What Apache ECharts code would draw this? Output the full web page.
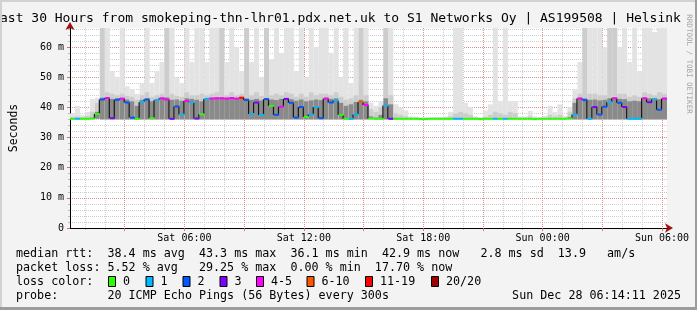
<!DOCTYPE html>
<html><head><meta charset="utf-8">
<script src="https://cdn.jsdelivr.net/npm/echarts@6/dist/echarts.min.js"></script>
<style>html,body{margin:0;padding:0;background:#f3f3f3}#c{width:697px;height:310px}</style>
</head><body><div id="c"></div>
<script>
// ---------- text ----------
const titleText = 'ast 30 Hours from smokeping-thn-lhr01.pdx.net.uk to S1 Networks Oy | AS199508 | Helsink';
const yAxisName = 'Seconds';
const watermark = 'RRDTOOL / TOBI OETIKER';
const timeTickLabels = ['Sat 06:00', 'Sat 12:00', 'Sat 18:00', 'Sun 00:00', 'Sun 06:00'];
const statLines = [
  'median rtt:  38.4 ms avg  43.3 ms max  36.1 ms min  42.9 ms now   2.8 ms sd  13.9   am/s',
  'packet loss: 5.52 % avg   29.25 % max  0.00 % min  17.70 % now',
  'loss color:',
  'probe:       20 ICMP Echo Pings (56 Bytes) every 300s'
];
const dateText = 'Sun Dec 28 06:14:11 2025';
const lossClasses = ['0', '1', '2', '3', '4-5', '6-10', '11-19', '20/20'];
const lossColors = ['#26ff00', '#00b8ff', '#0059ff', '#7e00ff', '#ff00ff', '#ff5500', '#ff0000', '#a10000'];

// ---------- data: one value per 15-minute step, Sat 00:15 .. Sun 06:15 ----------
const median = [
  36.2,36.2,36.2,36.2,36.3,37.8,42.6,43.1,36.4,42.5,
  42.9,41.6,36.6,36.2,41.8,42.6,36.4,42.4,43.0,42.6,
  36.2,40.3,37.6,42.1,41.7,36.3,37.7,42.8,42.9,43.0,
  43.0,42.9,43.1,42.9,43.2,42.4,37.8,41.6,37.5,42.7,
  40.5,37.5,40.2,42.8,41.5,36.6,40.1,36.8,37.6,40.1,
  36.4,42.9,41.6,42.3,37.5,36.2,36.2,37.6,41.8,40.8,
  36.3,36.2,36.2,40.6,36.2,36.2,36.2,36.2,36.2,36.2,
  36.1,36.1,36.2,36.2,36.2,36.2,36.2,36.2,36.2,36.2,
  36.2,36.2,36.1,36.2,36.2,36.2,36.2,36.2,36.2,36.2,
  36.2,36.2,36.2,36.1,36.2,36.2,36.2,36.2,36.2,36.2,
  36.3,37.6,42.9,42.4,36.2,40.1,37.6,40.2,41.7,43.0,
  41.5,40.1,36.2,36.2,36.2,43.0,41.7,42.6,39.2,42.9
];
const loss = [
  0,1,0,0,0,0,2,4,3,2,
  4,2,2,0,1,2,0,1,4,4,
  3,2,1,4,1,3,0,1,4,4,
  4,4,4,4,12,2,1,3,1,2,
  0,2,4,3,2,2,2,0,1,1,
  2,4,2,1,0,0,1,1,7,4,
  0,0,0,1,3,0,0,0,0,0,
  0,0,0,0,0,0,0,1,1,0,
  0,0,0,0,0,1,0,1,0,0,
  0,0,0,0,0,0,0,0,0,0,
  0,1,4,2,1,3,2,2,1,4,
  2,3,1,1,1,4,3,1,2,4
];
const bandLow = [
  36.1,36.1,36.1,36.1,36.1,36.2,36.0,36.0,36.0,36.0,
  36.0,36.0,36.0,36.0,36.0,36.0,36.0,36.0,36.0,36.0,
  36.0,36.0,36.0,36.0,36.0,36.0,36.0,36.0,36.0,36.0,
  36.0,36.0,36.0,36.0,36.0,36.0,36.0,36.0,36.0,36.0,
  36.0,36.0,36.0,36.0,36.0,36.0,36.0,36.0,36.0,36.0,
  36.0,36.0,36.0,36.0,36.0,36.0,36.0,36.0,36.0,36.0,
  36.1,36.1,36.1,36.0,36.0,36.1,36.1,36.1,36.1,36.1,
  36.1,36.1,36.1,36.1,36.1,36.1,36.1,36.1,36.1,36.1,
  36.1,36.1,36.1,36.1,36.1,36.1,36.1,36.1,36.1,36.1,
  36.1,36.1,36.1,36.1,36.1,36.1,36.1,36.1,36.1,36.1,
  36.1,36.0,36.0,36.0,36.0,36.0,36.0,36.0,36.0,36.0,
  36.0,36.0,36.0,36.0,36.0,36.0,36.0,36.0,36.0,36.0
];
const bandHigh = [
  36.4,36.4,36.4,36.4,36.6,38.5,43.2,43.3,42.8,43.0,
  43.1,42.6,42.0,40.5,42.5,43.0,42.0,42.8,43.2,43.3,
  42.5,42.6,42.2,43.0,42.8,42.5,42.0,43.1,43.2,43.3,
  43.3,43.2,43.2,43.1,43.3,43.0,42.5,42.8,42.3,43.1,
  42.6,42.4,42.8,43.1,42.7,42.2,42.6,42.0,42.3,42.6,
  42.4,43.2,42.8,43.0,41.5,40.5,41.0,41.8,42.5,42.0,
  37.0,36.6,37.5,43.0,41.0,36.5,36.4,36.4,36.3,36.3,
  36.3,36.3,36.3,36.3,36.3,36.3,36.3,36.5,36.5,36.4,
  36.3,36.3,36.3,36.3,36.4,36.5,36.4,36.4,36.5,36.4,
  36.3,36.3,36.3,36.3,36.3,36.3,36.4,36.3,36.4,36.3,
  36.8,41.5,43.2,43.0,42.5,42.6,42.3,42.5,43.0,43.3,
  42.8,42.7,42.0,42.2,42.0,43.2,43.0,43.1,42.7,43.2
];
const upperHigh = [
  36.8,37.0,36.8,37.2,38.5,41.5,70,45.0,44.5,44.0,
  44.5,43.8,43.5,42.5,44.0,45.0,43.5,44.0,44.5,70,
  44.5,43.8,43.5,45.0,44.0,44.0,44.5,44.0,44.5,45.0,
  70,44.0,45.0,44.0,44.5,70,44.0,45.0,43.8,70,
  44.0,44.5,44.0,45.0,44.5,43.5,44.5,43.5,45.0,44.0,
  44.5,44.5,44.0,45.0,43.5,42.5,43.0,44.0,70,44.0,
  39.5,38.5,40.0,70,44.0,38.0,37.5,37.0,36.6,36.6,
  36.5,36.5,36.5,36.5,36.5,36.6,37.0,38.0,38.5,38.0,
  37.5,36.6,36.5,36.8,37.5,38.5,38.0,37.5,38.5,38.0,
  36.6,36.6,37.0,36.6,36.5,36.6,37.5,37.0,37.5,36.6,
  38.5,43.0,44.5,70,44.5,44.5,44.0,44.0,70,70,
  44.5,44.5,43.5,44.0,43.5,45.0,44.5,44.0,45.0,44.5
];
const maxHigh = [
  38.0,40.5,37.5,38.5,42.8,43.2,70,70,52,50,
  70,47,46,44.5,48,70,48,52,55,70,
  70,50,48,70,55,70,70,55,70,70,
  70,55,70,60,52,70,55,70,50,70,
  56,70,58,70,70,52,70,50,70,60,
  70,70,58,70,50,70,48,70,70,70,
  41.5,40.5,42.0,70,70,41.0,40.0,39.0,37.0,36.9,
  36.8,36.8,36.8,36.8,36.8,37.0,38.5,70,70,41.5,
  40.0,37.0,36.8,39.0,41.0,70,42.0,70,42.0,42.0,
  37.0,37.0,38.8,37.0,36.8,37.2,40.5,38.5,41.0,37.2,
  40.0,46,55,70,70,70,70,60,70,70,
  60,70,55,70,52,70,70,65,70,70
];

// ---------- categories (15-minute steps) ----------
const categories = [];
for (let k = 0; k <= 120; k++) {
  const t = 15 + 15 * k;
  const m = t % 1440;
  categories.push((t < 1440 ? 'Sat' : 'Sun') + ' ' + String(Math.floor(m / 60)).padStart(2, '0') + ':' + String(m % 60).padStart(2, '0'));
}
const isHour = v => v.endsWith(':00');
const isMajor = v => isHour(v) && parseInt(v.slice(4, 6), 10) % 3 === 0;

const Y_MAX = 66.3;
const mono = '"DejaVu Sans Mono", monospace';
const C_MAX = '#e3e3e3', C_UP = '#cdcdcd', C_BAND = '#8a8a8a';
const MAJOR_GRID = 'rgba(230,95,95,0.55)', MINOR_GRID = '#cdcdcd';

function lossColor(l) {
  if (l <= 0) return lossColors[0];
  if (l === 1) return lossColors[1];
  if (l === 2) return lossColors[2];
  if (l === 3) return lossColors[3];
  if (l <= 5) return lossColors[4];
  if (l <= 10) return lossColors[5];
  if (l <= 19) return lossColors[6];
  return lossColors[7];
}

const idx = median.map((_, i) => i);
const smokeData = idx.map(i => [i, bandLow[i], bandHigh[i], upperHigh[i], maxHigh[i]]);
const medianData = idx.map(i => [i, median[i], loss[i], i + 1 < median.length ? median[i + 1] : median[i]]);

function smokeItem(params, api) {
  const i = api.value(0);
  const x = api.coord([i, 0])[0];
  const w = api.coord([i + 1, 0])[0] - x;
  const yOf = v => api.coord([i, Math.min(v, Y_MAX)])[1];
  const lo = yOf(api.value(1));
  const layers = [[api.value(4), C_MAX], [api.value(3), C_UP], [api.value(2), C_BAND]];
  return {
    type: 'group',
    children: layers.map(([top, c]) => ({
      type: 'rect',
      shape: { x: x, y: yOf(top), width: w, height: lo - yOf(top) },
      style: { fill: c }
    }))
  };
}

function medianItem(params, api) {
  const i = api.value(0);
  const m = api.value(1), l = api.value(2), next = api.value(3);
  const p = api.coord([i, m]);
  const w = api.coord([i + 1, m])[0] - p[0];
  const children = [];
  if (Math.abs(next - m) > 0.35) {
    const y2 = api.coord([i, next])[1];
    children.push({ type: 'line', shape: { x1: p[0] + w - 0.5, y1: p[1], x2: p[0] + w - 0.5, y2: y2 }, style: { stroke: '#151515', lineWidth: 1.2 } });
  }
  children.push({ type: 'rect', shape: { x: p[0], y: p[1] - 1, width: w, height: 2 }, style: { fill: lossColor(l) } });
  return { type: 'group', children: children };
}

// ---------- graphic text (title, legend, watermark) ----------
const graphics = [];
graphics.push({ type: 'text', x: 0, y: 18.5, style: { text: titleText, font: '13px ' + mono, fill: '#000', textAlign: 'left', textVerticalAlign: 'middle', verticalAlign: 'middle' } });
graphics.push({ type: 'text', x: 689, y: 64, rotation: -Math.PI / 2, style: { text: watermark, font: '7.5px ' + mono, fill: '#a4a4a4', textAlign: 'center', textVerticalAlign: 'middle', verticalAlign: 'middle' } });
const rowY = [254, 268, 282, 296];
statLines.forEach((t, k) => {
  graphics.push({ type: 'text', x: 16, y: rowY[k], style: { text: t, font: '11.7px ' + mono, fill: '#000', textAlign: 'left', textVerticalAlign: 'middle', verticalAlign: 'middle' } });
});
graphics.push({ type: 'text', x: 681, y: rowY[3], style: { text: dateText, font: '11.7px ' + mono, fill: '#000', textAlign: 'right', textVerticalAlign: 'middle', verticalAlign: 'middle' } });
const swatchX = [108, 145.5, 182.5, 219.5, 256, 306.5, 365, 431];
lossClasses.forEach((name, k) => {
  graphics.push({ type: 'rect', shape: { x: swatchX[k] + 0.5, y: 276.5, width: 7, height: 10 }, style: { fill: lossColors[k], stroke: '#000', lineWidth: 1 } });
  graphics.push({ type: 'text', x: swatchX[k] + 15, y: rowY[2], style: { text: name, font: '11.7px ' + mono, fill: '#000', textAlign: 'left', textVerticalAlign: 'middle', verticalAlign: 'middle' } });
});
// frame
graphics.push({ type: 'rect', shape: { x: 0, y: 0, width: 697, height: 2 }, style: { fill: '#d2d2d2' } });
graphics.push({ type: 'rect', shape: { x: 0, y: 0, width: 2, height: 310 }, style: { fill: '#d2d2d2' } });
graphics.push({ type: 'rect', shape: { x: 695, y: 0, width: 2, height: 310 }, style: { fill: '#9c9c9c' } });
graphics.push({ type: 'rect', shape: { x: 0, y: 307, width: 697, height: 3 }, style: { fill: '#9c9c9c' } });

const chart = echarts.init(document.getElementById('c'), null, { renderer: 'canvas', width: 697, height: 310 });
chart.setOption({
  backgroundColor: '#f3f3f3',
  animation: false,
  grid: { left: 67, top: 28, width: 600, height: 200, show: true, backgroundColor: '#ffffff', borderWidth: 0, containLabel: false },
  xAxis: [
    {
      type: 'category', data: categories, boundaryGap: false, position: 'bottom', z: 0,
      axisLine: { show: true, onZero: false, lineStyle: { color: '#a11111', width: 1 }, symbol: ['none', 'arrow'], symbolSize: [7, 8], symbolOffset: [0, 6] },
      axisTick: { show: true, interval: (i, v) => isHour(v), length: 2, lineStyle: { color: '#bbbbbb' } },
      axisLabel: { show: false },
      splitLine: { show: true, interval: (i, v) => isHour(v), lineStyle: { color: MINOR_GRID, type: [1, 1], width: 1 } }
    },
    {
      type: 'category', data: categories, boundaryGap: false, position: 'bottom', z: 1,
      axisLine: { show: true, onZero: false, lineStyle: { color: '#000000', width: 1 } },
      axisTick: { show: true, interval: (i, v) => isMajor(v), length: 3, lineStyle: { color: '#e06a6a' } },
      axisLabel: { show: true, interval: (i, v) => timeTickLabels.includes(v), color: '#000', fontFamily: mono, fontSize: 10, margin: 5 },
      splitLine: { show: true, interval: (i, v) => isMajor(v), lineStyle: { color: MAJOR_GRID, type: [1, 1], width: 1 } }
    }
  ],
  yAxis: [
    {
      type: 'value', min: 0, max: Y_MAX, interval: 10, position: 'left', z: 1,
      name: yAxisName, nameLocation: 'middle', nameGap: 50, nameRotate: 90,
      nameTextStyle: { fontFamily: mono, fontSize: 11.5, color: '#000' },
      axisLine: { show: true, onZero: false, lineStyle: { color: '#000' } },
      axisTick: { show: true, length: 3, lineStyle: { color: '#e06a6a' } },
      axisLabel: { color: '#000', fontFamily: mono, fontSize: 10, margin: 6, showMaxLabel: false, formatter: v => v === 0 ? '0' : (v % 10 === 0 ? v + ' m' : '') },
      splitLine: { show: true, showMaxLine: false, lineStyle: { color: MAJOR_GRID, type: [1, 1], width: 1 } }
    },
    {
      type: 'value', min: 0, max: Y_MAX, interval: 2, position: 'left', z: 0,
      axisLine: { show: true, onZero: false, lineStyle: { color: '#a11111' }, symbol: ['none', 'arrow'], symbolSize: [7, 8], symbolOffset: [0, 6] },
      axisTick: { show: true, length: 2, lineStyle: { color: '#bbbbbb' } },
      axisLabel: { show: false },
      splitLine: { show: true, showMaxLine: false, lineStyle: { color: MINOR_GRID, type: [1, 1], width: 1 } }
    }
  ],
  series: [
    { type: 'custom', name: 'smoke', coordinateSystem: 'cartesian2d', xAxisIndex: 0, yAxisIndex: 0, clip: true, z: 2, silent: true,
      data: smokeData, encode: { x: 0, y: [1, 2, 3, 4] }, renderItem: smokeItem },
    { type: 'custom', name: 'median rtt', coordinateSystem: 'cartesian2d', xAxisIndex: 0, yAxisIndex: 0, clip: true, z: 3, silent: true,
      data: medianData, encode: { x: 0, y: [1, 3] }, renderItem: medianItem }
  ],
  graphic: { elements: graphics }
});
</script></body></html>
